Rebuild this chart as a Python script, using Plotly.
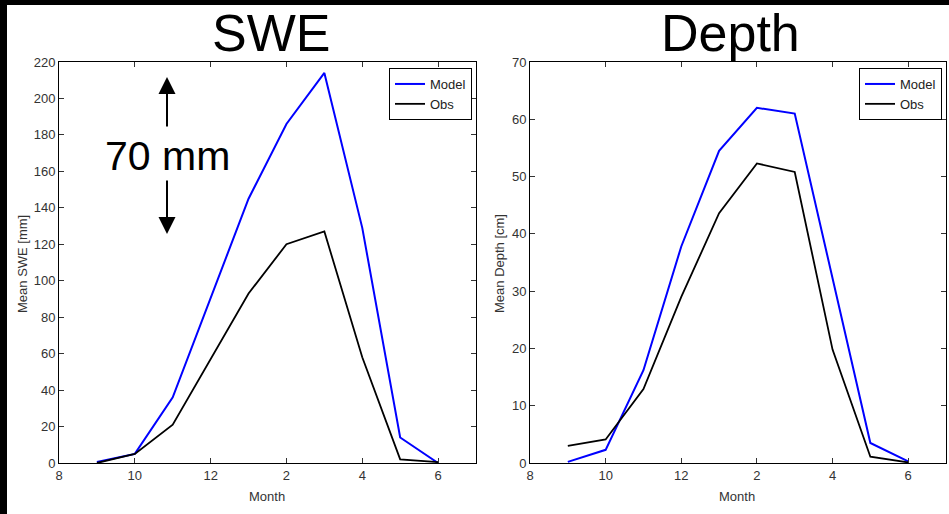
import plotly.graph_objects as go

# ---------------- data ----------------
months = [9, 10, 11, 12, 1, 2, 3, 4, 5, 6]
swe_model = [0.5, 5, 36, 90, 145, 186, 214, 129, 14, 0]
swe_obs = [0, 5, 21, 57, 93, 120, 127, 58, 2, 0.5]
depth_model = [0.2, 2.3, 16.2, 37.8, 54.5, 62.0, 61.0, 32.5, 3.5, 0.3]
depth_obs = [3.0, 4.1, 12.9, 29.0, 43.6, 52.3, 50.8, 19.8, 1.1, 0.1]
tick_vals = [8, 10, 12, 14, 16, 18]
tick_text = ["8", "10", "12", "2", "4", "6"]

# month position on a continuous Sep->Jun axis
xpos = [m if m >= 8 else m + 12 for m in months]

W, H = 949, 514
def px(x):
    return x / W
def py(y):
    return 1 - y / H

NARROW = "Liberation Sans Narrow, Arial Narrow, Liberation Sans, Arial"
SANS = "Liberation Sans, Arial, Helvetica"
BLUE = "#0000FF"

fig = go.Figure()
fig.add_trace(go.Scatter(x=xpos, y=swe_model, mode="lines", name="Model",
                         line=dict(color=BLUE, width=2), xaxis="x", yaxis="y", legend="legend"))
fig.add_trace(go.Scatter(x=xpos, y=swe_obs, mode="lines", name="Obs",
                         line=dict(color="black", width=1.8), xaxis="x", yaxis="y", legend="legend"))
fig.add_trace(go.Scatter(x=xpos, y=depth_model, mode="lines", name="Model",
                         line=dict(color=BLUE, width=2), xaxis="x2", yaxis="y2", legend="legend2"))
fig.add_trace(go.Scatter(x=xpos, y=depth_obs, mode="lines", name="Obs",
                         line=dict(color="black", width=1.8), xaxis="x2", yaxis="y2", legend="legend2"))

axis_common = dict(showline=True, linecolor="black", linewidth=1, mirror="ticks",
                   ticks="inside", ticklen=5, tickcolor="#333", showgrid=False, zeroline=False,
                   tickfont=dict(family=NARROW, size=13, color="#333"), automargin=False)

ydom = [py(463), py(62)]
fig.update_layout(
    width=W, height=H,
    margin=dict(l=0, r=0, t=0, b=0),
    paper_bgcolor="white", plot_bgcolor="white",
    xaxis=dict(domain=[px(59), px(476)], range=[8, 19], tickvals=tick_vals, ticktext=tick_text,
               anchor="y", **axis_common),
    yaxis=dict(domain=ydom, range=[0, 220], dtick=20, anchor="x", **axis_common),
    xaxis2=dict(domain=[px(530), px(946)], range=[8, 19], tickvals=tick_vals, ticktext=tick_text,
                anchor="y2", **axis_common),
    yaxis2=dict(domain=ydom, range=[0, 70], dtick=10, anchor="x2", **axis_common),
    legend=dict(x=px(472), y=py(68), xanchor="right", yanchor="top",
                bordercolor="black", borderwidth=1, bgcolor="white",
                font=dict(family=NARROW, size=13, color="#222"), tracegroupgap=0),
    legend2=dict(x=px(942), y=py(68), xanchor="right", yanchor="top",
                 bordercolor="black", borderwidth=1, bgcolor="white",
                 font=dict(family=NARROW, size=13, color="#222"), tracegroupgap=0),
    showlegend=True,
)

annotations = [
    dict(text="SWE", x=px(271), y=py(33), xref="paper", yref="paper", showarrow=False,
         font=dict(family=SANS, size=52, color="black"), xanchor="center", yanchor="middle"),
    dict(text="Depth", x=px(730), y=py(33), xref="paper", yref="paper", showarrow=False,
         font=dict(family=SANS, size=52, color="black"), xanchor="center", yanchor="middle"),
    dict(text="70 mm", x=px(167), y=py(156), xref="paper", yref="paper", showarrow=False,
         font=dict(family=SANS, size=41, color="black"), xanchor="center", yanchor="middle"),
    dict(text="", x=px(167), y=py(77), xref="paper", yref="paper", showarrow=True,
         ax=0, ay=51, arrowhead=2, arrowsize=1.7, arrowwidth=2, arrowcolor="black"),
    dict(text="", x=px(167), y=py(234), xref="paper", yref="paper", showarrow=True,
         ax=0, ay=-55, arrowhead=2, arrowsize=1.7, arrowwidth=2, arrowcolor="black"),
    dict(text="Mean SWE [mm]", x=px(22), y=py(264), xref="paper", yref="paper", showarrow=False,
         textangle=-90, font=dict(family=NARROW, size=13, color="#333"),
         xanchor="center", yanchor="middle"),
    dict(text="Mean Depth [cm]", x=px(499), y=py(264), xref="paper", yref="paper", showarrow=False,
         textangle=-90, font=dict(family=NARROW, size=13, color="#333"),
         xanchor="center", yanchor="middle"),
    dict(text="Month", x=px(267), y=py(496), xref="paper", yref="paper", showarrow=False,
         font=dict(family=NARROW, size=13, color="#333"), xanchor="center", yanchor="middle"),
    dict(text="Month", x=px(737), y=py(496), xref="paper", yref="paper", showarrow=False,
         font=dict(family=NARROW, size=13, color="#333"), xanchor="center", yanchor="middle"),
]
fig.update_layout(annotations=annotations)

shapes = [
    # black slide borders
    dict(type="rect", xref="paper", yref="paper", x0=0, x1=px(7), y0=0, y1=1,
         fillcolor="black", line=dict(width=0), layer="above"),
    dict(type="rect", xref="paper", yref="paper", x0=0, x1=1, y0=py(5), y1=1,
         fillcolor="black", line=dict(width=0), layer="above"),
]
fig.update_layout(shapes=shapes)

fig.write_html("out.html", config={"displayModeBar": False},
               post_script="document.body.style.margin='0px';document.body.style.overflow='hidden';")
